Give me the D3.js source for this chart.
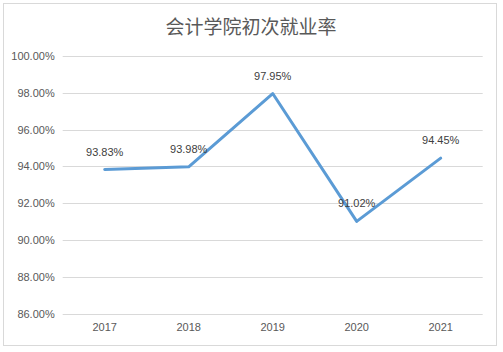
<!DOCTYPE html>
<html>
<head>
<meta charset="utf-8">
<script src="https://cdn.jsdelivr.net/npm/d3@7"></script>
<style>
  body { margin: 0; background: #fff; }
  svg { display: block; }
</style>
</head>
<body>
<div id="chart"></div>
<script>
// chart data
const title = "会计学院初次就业率";
const years = ["2017", "2018", "2019", "2020", "2021"];
const rates = [93.83, 93.98, 97.95, 91.02, 94.45];
const yTicks = [86, 88, 90, 92, 94, 96, 98, 100];

const width = 503, height = 352;
const margin = { top: 55.7, right: 20.3, bottom: 38, left: 62.7 };

const svg = d3.select("#chart").append("svg")
    .attr("width", width)
    .attr("height", height);

// outer frame
svg.append("rect")
    .attr("x", 3.5).attr("y", 3.5)
    .attr("width", 493).attr("height", 342)
    .attr("fill", "#fff")
    .attr("stroke", "#d9d9d9");

svg.append("text")
    .attr("x", 251).attr("y", 25)
    .attr("text-anchor", "middle")
    .attr("dominant-baseline", "central")
    .attr("font-family", "'Noto Sans CJK SC', sans-serif")
    .attr("font-size", 19)
    .attr("fill", "#595959")
    .text(title);

const x = d3.scaleBand()
    .domain(years)
    .range([margin.left, width - margin.right]);

const y = d3.scaleLinear()
    .domain([86, 100])
    .range([height - margin.bottom, margin.top]);

const font = "'Liberation Sans', Arial, sans-serif";

// gridlines
svg.append("g")
    .selectAll("line")
    .data(yTicks)
    .enter().append("line")
    .attr("x1", margin.left)
    .attr("x2", width - margin.right)
    .attr("y1", d => Math.round(y(d)) + 0.5)
    .attr("y2", d => Math.round(y(d)) + 0.5)
    .attr("stroke", "#d9d9d9")
    .attr("stroke-width", 1);

// y axis labels
const yAxis = d3.axisLeft(y)
    .tickValues(yTicks)
    .tickSize(0)
    .tickPadding(8)
    .tickFormat(d => d3.format(".2f")(d) + "%");
const gy = svg.append("g")
    .attr("transform", `translate(${margin.left},0)`)
    .call(yAxis);
gy.select(".domain").remove();
gy.selectAll("text")
    .attr("font-family", font)
    .attr("font-size", 11)
    .attr("fill", "#595959");

// x axis labels
const xAxis = d3.axisBottom(x).tickSize(0).tickPadding(9);
const gx = svg.append("g")
    .attr("transform", `translate(0,${height - margin.bottom})`)
    .call(xAxis);
gx.select(".domain").remove();
gx.selectAll("text")
    .attr("font-family", font)
    .attr("font-size", 11)
    .attr("fill", "#595959");

const pts = years.map((yr, i) => ({ year: yr, value: rates[i] }));
const cx = d => x(d.year) + x.bandwidth() / 2;

const line = d3.line()
    .x(cx)
    .y(d => y(d.value));

svg.append("path")
    .datum(pts)
    .attr("d", line)
    .attr("fill", "none")
    .attr("stroke", "#5b9bd5")
    .attr("stroke-width", 3)
    .attr("stroke-linejoin", "round")
    .attr("stroke-linecap", "round");

svg.append("g")
    .selectAll("text")
    .data(pts)
    .enter().append("text")
    .attr("x", cx)
    .attr("y", d => y(d.value) - 18)
    .attr("text-anchor", "middle")
    .attr("dominant-baseline", "central")
    .attr("font-family", font)
    .attr("font-size", 11)
    .attr("fill", "#404040")
    .text(d => d3.format(".2f")(d.value) + "%");
</script>
</body>
</html>
